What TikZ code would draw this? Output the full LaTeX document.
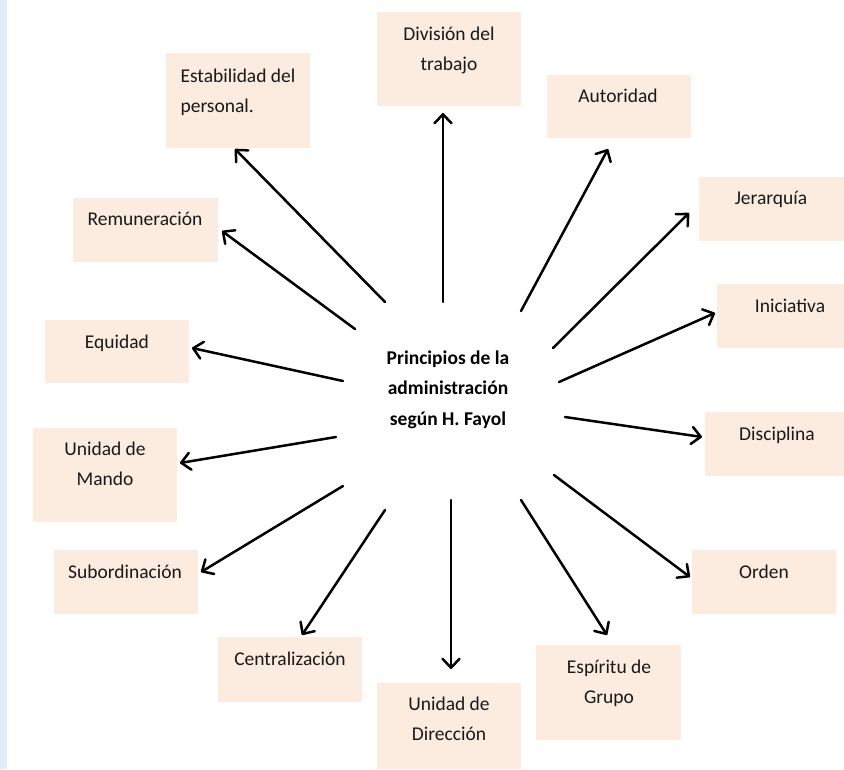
\documentclass[tikz,border=0pt]{standalone}
\usepackage{fontspec}
\setmainfont{Carlito}
\usetikzlibrary{arrows.meta}
\definecolor{peach}{RGB}{252,235,223}
\definecolor{edgeblue}{RGB}{226,236,248}
\newcommand\twoc[2]{\begin{tabular}[t]{@{}c@{}}#1\\#2\end{tabular}}
\newcommand\twol[2]{\begin{tabular}[t]{@{}l@{}}#1\\#2\end{tabular}}
\begin{document}
\begin{tikzpicture}[x=1pt,y=-1pt,
  box/.style={fill=peach,draw=none},
  lbl/.style={anchor=base,inner sep=0pt,text=black!90,font=\fontsize{19.5}{30}\selectfont},
  hub/.style={anchor=base,inner sep=0pt,font=\fontsize{19.5}{30.5}\selectfont\bfseries},
  arr/.style={line width=2.5pt,line cap=round,-{Straight Barb[length=9pt,width=17pt,line cap=round,line join=round]}}]
\useasboundingbox (0,0) rectangle (844,769);
\fill[edgeblue] (0,0) rectangle (7,769);
% boxes
\path[box] (377,12) rectangle (521,106) coordinate (bdiv);
\path[box] (166,53) rectangle (310,148) coordinate (best);
\path[box] (547,75) rectangle (691,138) coordinate (baut);
\path[box] (699,177) rectangle (844,241) coordinate (bjer);
\path[box] (73,198) rectangle (218,262) coordinate (brem);
\path[box] (717,284) rectangle (844,348) coordinate (bini);
\path[box] (45,320) rectangle (189,383) coordinate (bequ);
\path[box] (705,412) rectangle (844,476) coordinate (bdis);
\path[box] (33,428) rectangle (177,522) coordinate (bman);
\path[box] (692,550) rectangle (836,614) coordinate (bord);
\path[box] (54,550) rectangle (198,614) coordinate (bsub);
\path[box] (218,637) rectangle (362,702) coordinate (bcen);
\path[box] (377,683) rectangle (521,769) coordinate (budi);
\path[box] (536,645) rectangle (681,740) coordinate (besp);
% labels
\node[lbl] (div) at (449,40) {\twoc{División del}{trabajo}};
\node[lbl] (est) at (238,82) {\twol{Estabilidad del}{personal.}};
\node[lbl] (aut) at (618,102) {Autoridad};
\node[lbl] (jer) at (771,204) {Jerarquía};
\node[lbl] (rem) at (145,225) {Remuneración};
\node[lbl] (ini) at (790,312) {Iniciativa};
\node[lbl] (equ) at (117,348) {Equidad};
\node[lbl] (dis) at (777,440) {Disciplina};
\node[lbl] (man) at (105,455) {\twoc{Unidad de}{Mando}};
\node[lbl] (ord) at (764,578) {Orden};
\node[lbl] (sub) at (125,578) {Subordinación};
\node[lbl] (cen) at (290,665) {Centralización};
\node[lbl] (udi) at (449,710) {\twoc{Unidad de}{Dirección}};
\node[lbl] (esp) at (609,673) {\twoc{Espíritu de}{Grupo}};
\node[hub] (hub) at (448,364) {\begin{tabular}[t]{@{}c@{}}Principios de la\\administración\\según H. Fayol\end{tabular}};
% arrow ends
\coordinate (s1) at (443,302);  \coordinate (t1) at (443,113);
\coordinate (s2) at (385,302);  \coordinate (t2) at (235,149);
\coordinate (s3) at (355,329);  \coordinate (t3) at (222,231);
\coordinate (s4) at (343,381);  \coordinate (t4) at (192,348);
\coordinate (s5) at (336,437);  \coordinate (t5) at (180,463);
\coordinate (s6) at (343,486);  \coordinate (t6) at (201,572);
\coordinate (s7) at (385,510);  \coordinate (t7) at (302,635);
\coordinate (s8) at (451,500);  \coordinate (t8) at (451,669);
\coordinate (s9) at (521,500);  \coordinate (t9) at (607,635);
\coordinate (s10) at (554,475); \coordinate (t10) at (690,577);
\coordinate (s11) at (565,417); \coordinate (t11) at (702,437);
\coordinate (s12) at (559,382); \coordinate (t12) at (715,313);
\coordinate (s13) at (553,348); \coordinate (t13) at (689,213);
\coordinate (s14) at (521,311); \coordinate (t14) at (608,149);
\foreach \i in {1,...,14} {\draw[arr] (s\i) -- (t\i);}
\end{tikzpicture}
\end{document}
